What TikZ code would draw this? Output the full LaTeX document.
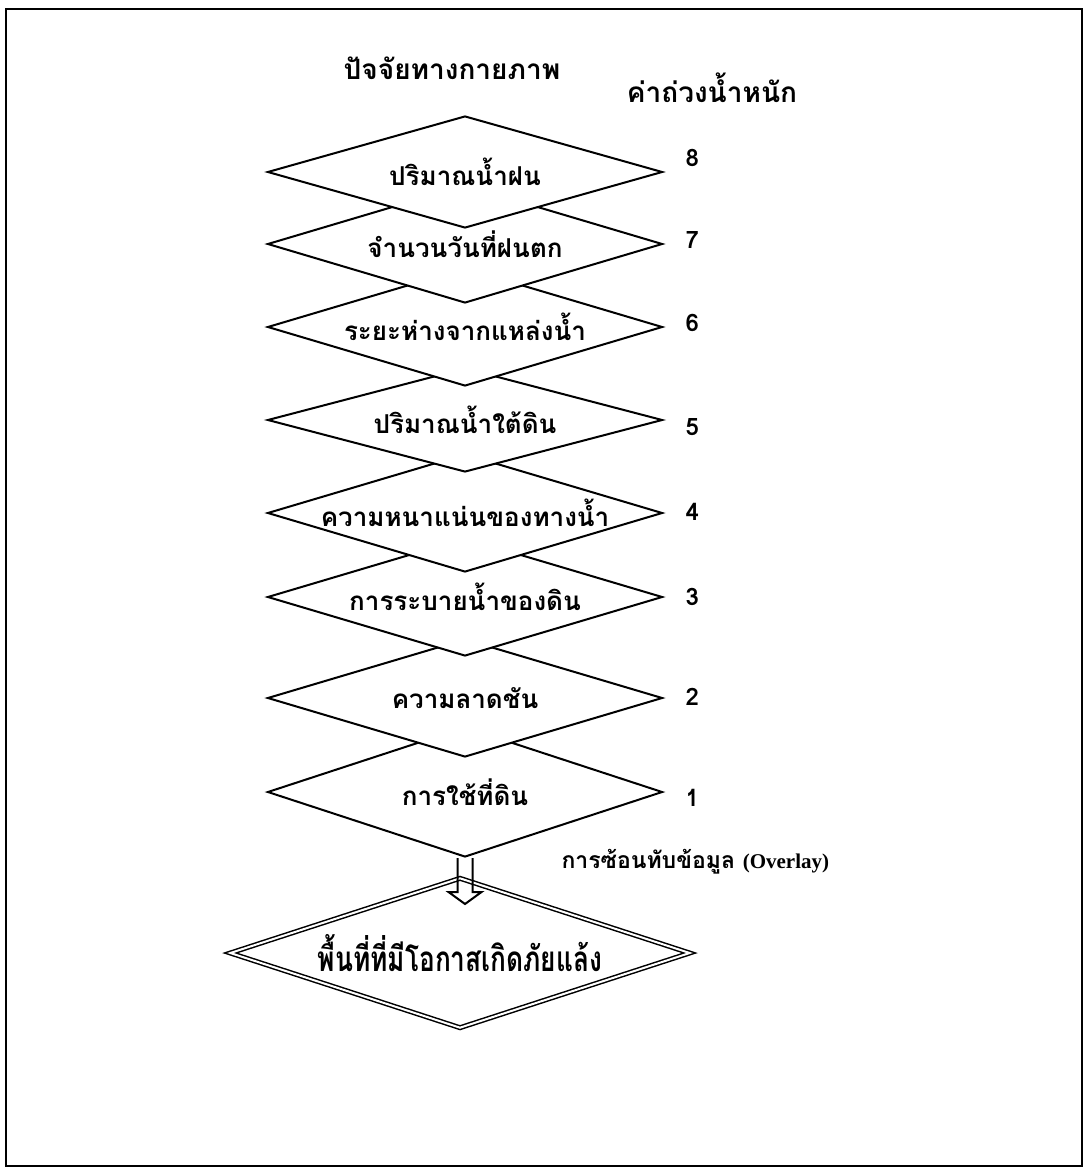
\documentclass[tikz,border=0pt]{standalone}
\usepackage{fontspec}
\setmainfont{Liberation Serif}
\newfontfamily\thaifont[Script=Thai]{Loma}
\newfontfamily\thaicond[Script=Thai, FakeStretch=0.75]{Loma}
\usetikzlibrary{shapes.geometric}

\tikzset{
    factor/.style={diamond, draw, fill=white, line width=2pt, aspect=3.35, inner sep=0pt,
        minimum width=395pt, minimum height=118pt, font=\thaifont\bfseries\fontsize{26}{30}\selectfont},
    weight/.style={anchor=west, font=\thaifont\bfseries\fontsize{24}{28}\selectfont},
    heading/.style={font=\thaifont\bfseries\fontsize{28}{32}\selectfont},
}

\begin{document}
\begin{tikzpicture}[x=1pt, y=-1pt]

        \useasboundingbox (0, 0) rectangle (1086, 1172);
        \draw[line width=2pt] (6, 9) rectangle (1082, 1166);

        \node (title) at (452, 68) [heading] {ปัจจัยทางกายภาพ};
        \node (header) at (712, 88) [heading] {ค่าถ่วงน้ำหนัก};

        \node (f-1) at (465, 792) [factor, minimum height=130pt] {การใช้ที่ดิน};
        \node (f-2) at (465, 698) [factor] {ความลาดชัน};
        \node (f-3) at (465, 597) [factor] {การระบายน้ำของดิน};
        \node (f-4) at (465, 513) [factor] {ความหนาแน่นของทางน้ำ};
        \node (f-5) at (465, 420) [factor, minimum height=104pt] {ปริมาณน้ำใต้ดิน};
        \node (f-6) at (465, 327) [factor] {ระยะห่างจากแหล่งน้ำ};
        \node (f-7) at (465, 244) [factor] {จำนวนวันที่ฝนตก};
        \node (f-8) at (465, 172) [factor, minimum height=112pt] {ปริมาณน้ำฝน};

        \node (w-8) at (682, 158) [weight] {8};
        \node (w-7) at (682, 240) [weight] {7};
        \node (w-6) at (682, 323) [weight] {6};
        \node (w-5) at (682, 427) [weight] {5};
        \node (w-4) at (682, 512) [weight] {4};
        \node (w-3) at (682, 597) [weight] {3};
        \node (w-2) at (682, 697) [weight] {2};
        \node (w-1) at (682, 798) [weight] {1};

        \node (risk) at (460, 953) [diamond, draw, double, double distance=2pt, line width=1.5pt,
            aspect=3.07, inner sep=0pt, minimum width=460pt, minimum height=150pt,
            font=\thaicond\bfseries\fontsize{35}{40}\selectfont] {พื้นที่ที่มีโอกาสเกิดภัยแล้ง};

        \draw[line width=2pt] (f-1.south) ++(-7.5, 0) -- ++(0, 34) -- ++(-9, 0) -- ++(16.5, 12)
            -- ++(16.5, -12) -- ++(-9, 0) -- ++(0, -34);

        \node (overlay) at (558, 862) [anchor=west, font=\thaifont\bfseries\fontsize{23}{26}\selectfont]
            {การซ้อนทับข้อมูล {\rmfamily\bfseries\fontsize{21}{24}\selectfont (Overlay)}};

    \end{tikzpicture}
\end{document}
